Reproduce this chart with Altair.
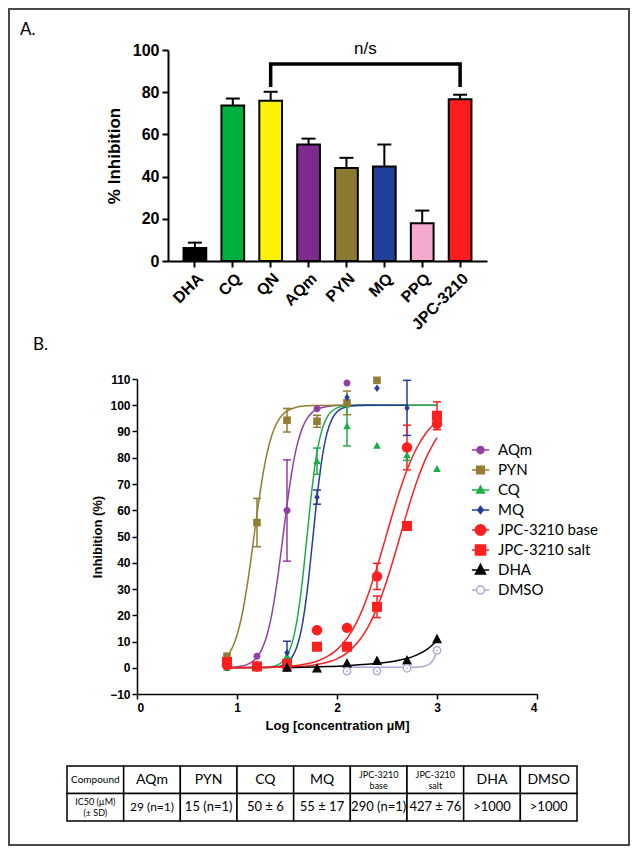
import altair as alt
import pandas as pd

FONT_AX = "Liberation Sans"
FONT_TX = "Lato"
FRAME = "#4a4a4a"

# ---------------- Panel A data ----------------
A_DRUGS = ["DHA", "CQ", "QN", "AQm", "PYN", "MQ", "PPQ", "JPC-3210"]
A_MEAN = [6.2, 73.7, 76.0, 55.2, 44.1, 44.8, 17.9, 76.7]
A_UPPER = [8.7, 77.0, 80.2, 58.0, 48.9, 55.2, 23.9, 78.8]
A_COLORS = ["#000000", "#00B140", "#FFF200", "#7F2A8E", "#8C7A31", "#1F3F99", "#F5A9CF", "#FF1C1C"]
A_TICKS = [0, 20, 40, 60, 80, 100]
BRACKET_DRUG = ["QN", "QN", "JPC-3210", "JPC-3210"]
BRACKET_Y = [82.5, 93.4, 93.4, 82.5]

# ---------------- Panel B data ----------------
B_SERIES = ["AQm", "PYN", "CQ", "MQ", "JPC-3210 base", "JPC-3210 salt", "DHA", "DMSO"]
B_COLORS = ["#9140A3", "#927E33", "#1BAE47", "#233F9B", "#FF1F1F", "#FF1F1F", "#000000", "#A8A8D8"]
B_Y_TICKS = [-10, 0, 10, 20, 30, 40, 50, 60, 70, 80, 90, 100, 110]
B_X_TICKS = [0, 1, 2, 3, 4]

PT_X = {
    "AQm": [0.9, 1.2, 1.5, 1.8, 2.1],
    "PYN": [0.9, 1.2, 1.5, 1.8, 2.1, 2.4],
    "CQ": [0.9, 1.2, 1.5, 1.8, 2.1, 2.4, 2.7, 3.0],
    "MQ": [0.9, 1.2, 1.5, 1.8, 2.1, 2.4, 2.7],
    "JPC-3210 base": [0.9, 1.2, 1.5, 1.8, 2.1, 2.4, 2.7, 3.0],
    "JPC-3210 salt": [0.9, 1.2, 1.5, 1.8, 2.1, 2.4, 2.7, 3.0],
    "DHA": [1.5, 1.8, 2.1, 2.4, 2.7, 3.0],
    "DMSO": [2.1, 2.4, 2.7, 3.0],
}
PT_MEAN = {
    "AQm": [1.9, 4.4, 59.9, 98.7, 108.5],
    "PYN": [4.4, 55.3, 94.3, 93.9, 100.9, 109.5],
    "CQ": [0.0, 1.3, 4.4, 78.7, 92.0, 84.6, 81.0, 75.7],
    "MQ": [0.0, 0.5, 5.7, 65.0, 103.0, 106.5, 99.0],
    "JPC-3210 base": [1.0, 0.5, 0.5, 14.3, 15.2, 34.8, 83.9, 93.0],
    "JPC-3210 salt": [2.2, 0.5, 1.5, 8.0, 8.0, 23.2, 54.0, 96.0],
    "DHA": [0.0, -0.3, 1.6, 2.6, 2.8, 10.9],
    "DMSO": [-1.3, -1.3, -0.2, 6.6],
}
PT_SD = {
    "AQm": [None, None, 19.3, None, None],
    "PYN": [None, 9.2, 4.5, 2.3, 4.5, None],
    "CQ": [None, None, None, 5.0, 7.5, None, 2.0, None],
    "MQ": [None, None, 4.4, 2.7, None, None, 10.5],
    "JPC-3210 base": [None, None, None, None, None, 5.0, 8.5, 2.2],
    "JPC-3210 salt": [None, None, None, None, None, 4.1, None, 5.3],
    "DHA": [None] * 6,
    "DMSO": [None] * 4,
}
CURVE_X = {
    "AQm": [0.9, 1.0, 1.1, 1.15, 1.2, 1.25, 1.3, 1.35, 1.4, 1.45, 1.5, 1.55, 1.6, 1.65, 1.7, 1.75, 1.8, 1.9, 2.0, 2.2, 3.0],
    "PYN": [0.9, 0.95, 1.0, 1.05, 1.1, 1.15, 1.2, 1.25, 1.3, 1.35, 1.4, 1.45, 1.5, 1.6, 1.7, 1.8, 2.0, 2.4],
    "CQ": [0.9, 1.2, 1.3, 1.4, 1.45, 1.5, 1.55, 1.6, 1.65, 1.7, 1.75, 1.8, 1.85, 1.9, 1.95, 2.0, 2.1, 2.2, 3.0],
    "MQ": [0.9, 1.3, 1.4, 1.45, 1.5, 1.55, 1.6, 1.65, 1.7, 1.75, 1.8, 1.85, 1.9, 1.95, 2.0, 2.05, 2.1, 2.2, 2.3, 2.7],
    "JPC-3210 base": [0.9, 1.2, 1.4, 1.5, 1.6, 1.7, 1.8, 1.9, 2.0, 2.1, 2.2, 2.3, 2.4, 2.5, 2.6, 2.7, 2.8, 2.9, 3.0],
    "JPC-3210 salt": [0.9, 1.2, 1.4, 1.5, 1.6, 1.7, 1.8, 1.9, 2.0, 2.1, 2.2, 2.3, 2.4, 2.5, 2.6, 2.7, 2.8, 2.9, 3.0],
    "DHA": [1.5, 1.7, 1.9, 2.1, 2.3, 2.5, 2.6, 2.7, 2.8, 2.9, 3.0],
    "DMSO": [2.1, 2.4, 2.7, 2.85, 2.9, 2.94, 2.97, 3.0],
}
CURVE_Y = {
    "AQm": [0.1, 0.4, 1.2, 2.2, 4.0, 7.2, 12.4, 20.7, 32.5, 47.0, 62.0, 75.0, 84.7, 91.0, 94.9, 97.2, 98.5, 99.5, 99.9, 100, 100],
    "PYN": [4.3, 7.4, 12.4, 20.1, 30.9, 44.3, 58.6, 71.5, 81.7, 88.8, 93.4, 96.2, 97.8, 99.3, 99.8, 99.9, 100, 100],
    "CQ": [0.0, 0.05, 0.2, 1.0, 2.2, 4.6, 9.3, 18.0, 31.9, 50.0, 68.1, 82.1, 90.7, 95.4, 97.8, 99.0, 99.8, 99.95, 100],
    "MQ": [0.0, 0.1, 0.4, 0.9, 1.9, 4.0, 8.1, 15.8, 28.7, 46.2, 64.8, 79.7, 89.4, 94.7, 97.5, 98.8, 99.4, 99.9, 100, 100],
    "JPC-3210 base": [0.0, 0.1, 0.3, 0.5, 0.9, 1.5, 2.5, 4.2, 6.9, 11.2, 17.6, 26.7, 38.3, 51.3, 64.2, 75.3, 83.9, 89.9, 93.8],
    "JPC-3210 salt": [0.0, 0.05, 0.15, 0.25, 0.4, 0.7, 1.2, 2.1, 3.4, 5.7, 9.3, 14.8, 22.8, 33.4, 46.0, 59.2, 71.1, 80.7, 87.7],
    "DHA": [0.05, 0.2, 0.45, 0.8, 1.3, 2.1, 2.7, 3.5, 4.9, 7.0, 10.3],
    "DMSO": [0.2, 0.2, 0.2, 0.4, 0.9, 1.9, 3.6, 6.6],
}

# ---------------- Table data ----------------
TABLE_HEAD = ["Compound", "AQm", "PYN", "CQ", "MQ", "JPC-3210\nbase", "JPC-3210\nsalt", "DHA", "DMSO"]
TABLE_IC50 = ["IC50 (µM)\n(± SD)", "29 (n=1)", "15 (n=1)", "50 ± 6", "55 ± 17", "290 (n=1)", "427 ± 76", ">1000", ">1000"]
# text styles
HEAD_FS = [10, 14, 14, 14, 14, 9, 9, 14, 14]
IC50_FS = [9, 12, 13, 13, 13, 13, 13, 13, 13]


# ---------------- marker shapes (style) ----------------
def circle(r):
    return f"M{-r},0A{r},{r},0,1,0,{r},0A{r},{r},0,1,0,{-r},0Z"


def square(h):
    return f"M{-h},{-h}H{h}V{h}H{-h}Z"


def tri(w, top, bot):
    return f"M0,{top}L{w},{bot}L{-w},{bot}Z"


def diamond(w, h):
    return f"M0,{-h}L{w},0L0,{h}L{-w},0Z"


POINT_PATHS = {  # at size 100 (5 px per unit)
    "AQm": circle(0.7),
    "PYN": square(0.76),
    "CQ": tri(0.76, -0.8, 0.6),
    "MQ": diamond(0.55, 0.75),
    "JPC-3210 base": circle(1.04),
    "JPC-3210 salt": square(1.0),
    "DHA": tri(1.0, -1.1, 0.8),
}
LINE = "M-1,0H1"
LEGEND_PATHS = [  # at size 300 (8.66 px per unit)
    LINE + circle(0.40),
    LINE + square(0.44),
    LINE + tri(0.44, -0.46, 0.35),
    LINE + diamond(0.33, 0.42),
    LINE + circle(0.60),
    LINE + square(0.58),
    LINE + tri(0.58, -0.64, 0.46),
    "M-1,0H-0.46M0.46,0H1" + circle(0.46),
]
LEGEND_FILL = B_COLORS[:-1] + ["#FFFFFF"]

one = pd.DataFrame({"f": [0]})


def panel_label(txt, x, y):
    return alt.Chart(one).mark_text(text=txt, font=FONT_TX, fontSize=17, align="left",
                                    baseline="middle", color="black").encode(x=alt.value(x), y=alt.value(y))


# layout (pixels, relative to each panel's origin which sits at the table's left edge)
A_X0, A_W, A_H, A_ROW = 101, 319, 211, 329
B_X0, B_W, B_H, B_ROW = 70, 400, 315, 387

# ================= Panel A =================
a_df = pd.DataFrame({"drug": A_DRUGS, "mean": A_MEAN, "upper": A_UPPER})
br_df = pd.DataFrame({"drug": BRACKET_DRUG, "y": BRACKET_Y, "o": [0, 1, 2, 3]})
ns_df = pd.DataFrame({"drug": ["PYN"], "y": [100], "t": ["n/s"]})

ax_a_x = alt.Axis(labelAngle=-45, labelAlign="right", labelBaseline="top", labelPadding=3,
                  labelFont=FONT_AX, labelFontSize=16, labelFontWeight="bold", labelColor="black",
                  domainColor="black", domainWidth=2, tickColor="black", tickWidth=2, tickSize=6,
                  offset=A_H - A_ROW)
ax_a_y = alt.Axis(values=A_TICKS, grid=False, labelFont=FONT_AX, labelFontSize=16, labelFontWeight="bold",
                  labelColor="black", labelPadding=3, domainColor="black", domainWidth=2, tickColor="black",
                  tickWidth=2, tickSize=6, titleFont=FONT_AX, titleFontSize=17, titleFontWeight="bold",
                  titleColor="black", titlePadding=9, offset=-A_X0)
sc_a_x = alt.Scale(domain=A_DRUGS, paddingInner=0.4, paddingOuter=0.41, range=[A_X0, A_X0 + A_W])
sc_a_y = alt.Scale(domain=[0, 100], nice=False, range=[A_H, 0])


def xa():
    return alt.X("drug:N", sort=A_DRUGS, title=None, scale=sc_a_x, axis=ax_a_x)


def ya(f):
    return alt.Y(f, title="% Inhibition", scale=sc_a_y, axis=ax_a_y)


bars = alt.Chart(a_df).mark_bar(stroke="black", strokeWidth=2).encode(
    x=xa(), y=ya("mean:Q"),
    color=alt.Color("drug:N", scale=alt.Scale(domain=A_DRUGS, range=A_COLORS), legend=None))
a_err = alt.Chart(a_df).mark_rule(color="black", strokeWidth=2).encode(x=xa(), y=ya("mean:Q"), y2="upper:Q")
a_cap = alt.Chart(a_df).mark_tick(color="black", thickness=2, size=14, orient="horizontal", opacity=1).encode(
    x=xa(), y=ya("upper:Q"))
bracket = alt.Chart(br_df).mark_line(color="black", strokeWidth=3.5).encode(x=xa(), y=ya("y:Q"), order="o:Q")
ns = alt.Chart(ns_df).mark_text(font=FONT_AX, fontSize=17, dx=19, dy=-1, color="black").encode(
    x=xa(), y=ya("y:Q"), text="t:N")
frame_rect = alt.Chart(one).mark_rect(fillOpacity=0, stroke=FRAME, strokeWidth=2).encode(
    x=alt.value(-58), x2=alt.value(562), y=alt.value(-41), y2=alt.value(795))

panel_a = alt.layer(
    bars, a_err, a_cap, bracket, ns, panel_label("A.", -47, -20), frame_rect
).properties(width=A_X0 + A_W, height=A_ROW)

# ================= Panel B =================
crv_rows, pt_rows, er_rows = [], [], []
for s in B_SERIES:
    for x, y in zip(CURVE_X[s], CURVE_Y[s]):
        crv_rows.append({"series": s, "x": x, "y": y})
    for x, m, sd in zip(PT_X[s], PT_MEAN[s], PT_SD[s]):
        pt_rows.append({"series": s, "x": x, "y": m})
        if sd is not None:
            er_rows.append({"series": s, "x": x, "lo": m - sd, "hi": min(m + sd, 110)})
crv_df = pd.DataFrame(crv_rows)
pt_df = pd.DataFrame(pt_rows)
er_df = pd.DataFrame(er_rows)
leg_df = pd.DataFrame({"series": B_SERIES})

ax_b_x = alt.Axis(values=B_X_TICKS, format="d", grid=False, labelFont=FONT_AX, labelFontSize=12,
                  labelFontWeight="bold", labelColor="black", labelPadding=3, domainColor="black",
                  domainWidth=1.5, tickColor="black", tickWidth=1.5, tickSize=5, titleFont=FONT_AX,
                  titleFontSize=13, titleFontWeight="bold", titleColor="black", titlePadding=6,
                  offset=B_H - B_ROW)
ax_b_y = alt.Axis(values=B_Y_TICKS, grid=False, labelFont=FONT_AX, labelFontSize=12, labelFontWeight="bold",
                  labelColor="black", labelPadding=2, domainColor="black", domainWidth=1.5, tickColor="black",
                  tickWidth=1.5, tickSize=5, titleFont=FONT_AX, titleFontSize=13, titleFontWeight="bold",
                  titleColor="black", titlePadding=5, offset=-B_X0)
sc_b_x = alt.Scale(domain=[0, 4], nice=False, range=[B_X0, B_X0 + B_W])
sc_b_y = alt.Scale(domain=[-10, 110], nice=False, range=[B_H, 0])
col_scale = alt.Scale(domain=B_SERIES, range=B_COLORS)


def xb():
    return alt.X("x:Q", title="Log [concentration µM]", scale=sc_b_x, axis=ax_b_x)


def yb(f):
    return alt.Y(f, title="Inhibition (%)", scale=sc_b_y, axis=ax_b_y)


curves = alt.Chart(crv_df).mark_line(strokeWidth=1.5, interpolate="monotone").encode(
    x=xb(), y=yb("y:Q"), color=alt.Color("series:N", scale=col_scale, legend=None), detail="series:N")
b_err = alt.Chart(er_df).mark_rule(strokeWidth=1.5).encode(
    x=xb(), y=yb("lo:Q"), y2="hi:Q", color=alt.Color("series:N", scale=col_scale, legend=None))
b_cap_lo = alt.Chart(er_df).mark_tick(orient="horizontal", size=8, thickness=1.5, opacity=1).encode(
    x=xb(), y=yb("lo:Q"), color=alt.Color("series:N", scale=col_scale, legend=None))
b_cap_hi = alt.Chart(er_df).mark_tick(orient="horizontal", size=8, thickness=1.5, opacity=1).encode(
    x=xb(), y=yb("hi:Q"), color=alt.Color("series:N", scale=col_scale, legend=None))

point_layers = []
for s, c in zip(B_SERIES[:-1], B_COLORS[:-1]):
    point_layers.append(
        alt.Chart(pt_df).transform_filter(alt.datum.series == s).mark_point(
            shape=POINT_PATHS[s], size=100, filled=True, color=c, opacity=1, strokeWidth=0
        ).encode(x=xb(), y=yb("y:Q"))
    )
dmso_pts = alt.Chart(pt_df).transform_filter(alt.datum.series == "DMSO").mark_point(
    shape="circle", size=55, fill="white", stroke=B_COLORS[-1], strokeWidth=1.3, opacity=1
).encode(x=xb(), y=yb("y:Q"))
dmso_dot = alt.Chart(pt_df).transform_filter(alt.datum.series == "DMSO").mark_point(
    shape="circle", size=3, filled=True, color=B_COLORS[-1], opacity=1
).encode(x=xb(), y=yb("y:Q"))

legend = alt.Legend(title=None, orient="none", legendX=404, legendY=390, symbolSize=300,
                    symbolStrokeWidth=1.5, symbolOpacity=1, labelFont=FONT_TX, labelFontSize=15,
                    labelColor="black", labelOffset=8, rowPadding=0, clipHeight=20, padding=0)
leg_layer = alt.Chart(leg_df).transform_filter("false").mark_point(filled=True, opacity=1).encode(
    shape=alt.Shape("series:N", scale=alt.Scale(domain=B_SERIES, range=LEGEND_PATHS), legend=legend),
    fill=alt.Fill("series:N", scale=alt.Scale(domain=B_SERIES, range=LEGEND_FILL), legend=legend),
    stroke=alt.Stroke("series:N", scale=alt.Scale(domain=B_SERIES, range=B_COLORS), legend=legend),
)

panel_b = alt.layer(
    curves, b_err, b_cap_lo, b_cap_hi, *point_layers, dmso_pts, dmso_dot, leg_layer,
    panel_label("B.", -34, -34)
).properties(width=B_X0 + B_W, height=B_ROW)

# ================= Table =================
cells = []
for i, (t, fs) in enumerate(zip(TABLE_HEAD, HEAD_FS)):
    cells.append({"col": i, "row": 0, "text": t, "fs": fs, "lines": t.count("\n") + 1})
for i, (t, fs) in enumerate(zip(TABLE_IC50, IC50_FS)):
    cells.append({"col": i, "row": 1, "text": t, "fs": fs, "lines": t.count("\n") + 1})
t_df = pd.DataFrame(cells)
xt = alt.X("col:O", axis=None, scale=alt.Scale(paddingInner=0, paddingOuter=0))
yt = alt.Y("row:O", axis=None, scale=alt.Scale(paddingInner=0, paddingOuter=0))
t_rect = alt.Chart(t_df).mark_rect(fill="white", stroke="black", strokeWidth=1.5).encode(x=xt, y=yt)
t_text1 = alt.Chart(t_df).transform_filter(alt.datum.lines == 1).mark_text(
    font=FONT_TX, color="black", baseline="middle").encode(
    x=xt, y=yt, text="text:N", size=alt.Size("fs:Q", scale=None))
t_text2 = alt.Chart(t_df).transform_filter(alt.datum.lines == 2).mark_text(
    font=FONT_TX, lineBreak="\n", color="black", baseline="middle", lineHeight=11, dy=-5).encode(
    x=xt, y=yt, text="text:N", size=alt.Size("fs:Q", scale=None))

panel_c = alt.layer(t_rect, t_text1, t_text2).properties(width=510, height=55)

chart = alt.vconcat(
    panel_a, panel_b, panel_c, spacing=0, bounds="flush"
).resolve_scale(color="independent").properties(padding=0, background="white").configure_view(stroke=None)

chart.save("out.html", embed_options={"renderer": "svg", "actions": False})
